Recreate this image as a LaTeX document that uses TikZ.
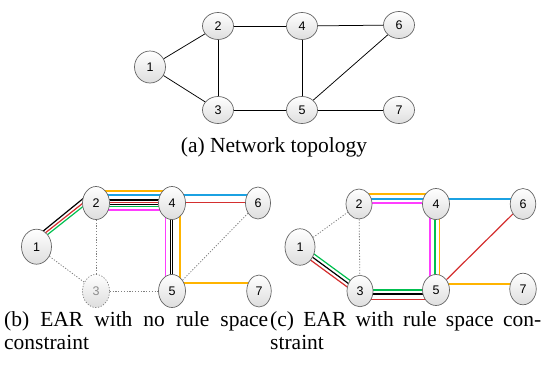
\documentclass[tikz,border=0pt]{standalone}
\usepackage{fontspec}
\setmainfont{Liberation Serif}
\newfontfamily\nodesans{Liberation Sans}
\usetikzlibrary{shapes.geometric,calc}
\pgfdeclarelayer{bg}
\pgfsetlayers{bg,main}
\definecolor{corange}{HTML}{FFB400}
\definecolor{cblue}{HTML}{1BA1E2}
\definecolor{cred}{HTML}{D42F2F}
\definecolor{cgreen}{HTML}{00BF4F}
\definecolor{cmag}{HTML}{FF3DFF}
\definecolor{cborder}{HTML}{666666}
\definecolor{cdot}{HTML}{808080}
\newcommand\capfont{\fontsize{21.5}{23}\selectfont}
\newcommand\vfont{\nodesans\fontsize{12.5}{14}\selectfont}
\begin{document}
\begin{tikzpicture}[x=1pt,y=-1pt,
  vtx/.style={ellipse, draw=cborder, line width=0.7pt, top color=white, bottom color=black!13, inner sep=0pt, font=\vfont, text=black},
  va/.style={vtx, minimum width=31pt, minimum height=27pt},
  vb/.style={vtx, minimum width=27pt, minimum height=33pt},
  vc/.style={vtx, minimum width=26.5pt, minimum height=31pt},
  ghost/.style={draw=cdot, dash pattern=on 1.2pt off 1.6pt, text=black!45},
  edge/.style={draw=black, line width=0.75pt},
  ln/.style={line width=1.2pt},
  dotl/.style={draw=cdot, line width=0.8pt, dash pattern=on 1.2pt off 1.6pt},
  captxt/.style={inner sep=0pt, font=\capfont}]
\useasboundingbox (0,0) rectangle (545,365);

% ---------- (a) ----------
\node[va, minimum height=32pt] (a1) at (150,67) {1};
\node[va] (a2) at (218,26) {2};
\node[va] (a3) at (218,110) {3};
\node[va] (a4) at (302,26) {4};
\node[va] (a5) at (302,110) {5};
\node[va] (a6) at (399,25) {6};
\node[va] (a7) at (399,110) {7};
\draw[edge] (a1) -- (a2);
\draw[edge] (a1) -- (a3);
\draw[edge] (a2) -- (a3);
\draw[edge] (a2) -- (a4);
\draw[edge] (a4) -- (a6);
\draw[edge] (a4) -- (a5);
\draw[edge] (a3) -- (a5);
\draw[edge] (a5) -- (a7);
\draw[edge] (a5) -- (a6);
\node[captxt, anchor=base] (capa) at (274,152.5) {(a) Network topology};

% ---------- (b) ----------
\node[vb, minimum width=30pt, minimum height=35pt] (b1) at (36.5,246.7) {1};
\node[vb] (b2) at (96,203) {2};
\node[vb, ghost] (b3) at (96,291) {3};
\node[vb] (b4) at (172,203) {4};
\node[vb] (b5) at (172,291) {5};
\node[vb, minimum width=25pt, minimum height=32pt] (b6) at (258,203) {6};
\node[vb, minimum width=24.5pt, minimum height=32pt] (b7) at (259,291) {7};
\begin{pgfonlayer}{bg}
  % 1-2
  \draw[ln, black]  ($(b1)+(2.7,-12.4)$) -- ($(b2)+(-11.1,-5.9)$);
  \draw[ln, cred]   ($(b1)+(4.4,-10.3)$) -- ($(b2)+(-9.4,-2.8)$);
  \draw[ln, cgreen] ($(b1)+(6.1,-8.2)$)  -- ($(b2)+(-7.7,-0.7)$);
  % 2-4 / 4-6
  \draw[ln, corange] ($(b2)+(0,-12)$) -- ($(b4)+(0,-12)$);
  \draw[ln, cblue]   ($(b2)+(0,-8)$)  -- ($(b6)+(0,-8)$);
  \draw[ln, black]   ($(b2)+(0,-3)$)  -- ($(b4)+(0,-3)$);
  \draw[ln, cred]    ($(b2)+(0,-0.7)$) -- ($(b6)+(0,-0.7)$);
  \draw[ln, black]   ($(b2)+(0,1.4)$) -- ($(b4)+(0,1.4)$);
  \draw[ln, cgreen]  ($(b2)+(0,3.8)$) -- ($(b4)+(0,3.8)$);
  \draw[ln, cmag]    ($(b2)+(0,7)$)   -- ($(b4)+(0,7)$);
  % 4-5
  \draw[ln, cmag]  ($(b4)+(-6.3,0)$) -- ($(b5)+(-6.3,0)$);
  \draw[ln, black] ($(b4)+(-1.3,0)$) -- ($(b5)+(-1.3,0)$);
  \draw[ln, black] ($(b4)+(0.8,0)$)  -- ($(b5)+(0.8,0)$);
  \draw[ln, corange] ($(b4)+(8,0)$) |- ($(b7)+(0,-8)$);
\end{pgfonlayer}
\draw[dotl] (b1) -- (b3);
\draw[dotl] (b2) -- (b3);
\draw[dotl] (b3) -- (b5);
\draw[dotl] (b5) -- (b6);
\node[captxt, anchor=base west] (capb) at (4,326.5)
  {\parbox[t]{264pt}{\makebox[264pt][s]{(b) EAR with no rule space}\\constraint}};

% ---------- (c) ----------
\node[vc, minimum width=30pt, minimum height=36.5pt] (c1) at (300,247) {1};
\node[vc, minimum width=26pt, minimum height=30pt] (c2) at (359,204) {2};
\node[vc, minimum width=26pt, minimum height=31.5pt] (c3) at (360,291) {3};
\node[vc, minimum width=27pt] (c4) at (436,204) {4};
\node[vc, minimum width=27pt] (c5) at (436,290) {5};
\node[vc, minimum width=25.5pt] (c6) at (523,204) {6};
\node[vc, minimum height=31.5pt] (c7) at (523,289) {7};
\begin{pgfonlayer}{bg}
  % 2-4 / 4-6
  \draw[ln, corange] ($(c2)+(0,-10)$) -- ($(c4)+(0,-10)$);
  \draw[ln, cblue]   ($(c2)+(0,-5)$)  -- ($(c6)+(0,-5)$);
  \draw[ln, cmag]    ($(c2)+(0,-1)$)  -- ($(c4)+(0,-1)$);
  % 4-5
  \draw[ln, cmag]    ($(c4)+(-6,0)$)  -- ($(c5)+(-6,0)$);
  \draw[ln, cgreen]  ($(c4)+(-1,0)$)  -- ($(c5)+(-1,0)$);
  \draw[ln, corange] ($(c4)+(3.5,0)$) -- ($(c5)+(3.5,0)$);
  % 5-7, 5-6
  \draw[ln, corange] ($(c5)+(0,-6)$) -- ($(c7)+(0,-5)$);
  \draw[ln, cred] (c5) -- (c6);
  % 1-3
  \draw[ln, cgreen] ($(c1)+(2.07,-1.8)$) -- ($(c3)+(2.07,-1.8)$);
  \draw[ln, black]  ($(c1)+(0,1)$) -- ($(c3)+(0,1)$);
  \draw[ln, cred]   ($(c1)+(-2.07,3.8)$) -- ($(c3)+(-2.07,3.8)$);
  % 3-5
  \draw[ln, cgreen] ($(c3)+(0,-1)$) -- ($(c5)+(0,0)$);
  \draw[line width=1.5pt, black] ($(c3)+(0,3)$) -- ($(c5)+(0,4)$);
  \draw[ln, cred] ($(c3)+(0,8.5)$) -- ($(c5)+(0,9.5)$);
\end{pgfonlayer}
\draw[dotl] (c1) -- (c2);
\draw[dotl] (c2) -- (c3);
\node[captxt, anchor=base west] (capc) at (270,326.5)
  {\parbox[t]{271pt}{\makebox[271pt][s]{(c) EAR with rule space con-}\\straint}};
\end{tikzpicture}
\end{document}
